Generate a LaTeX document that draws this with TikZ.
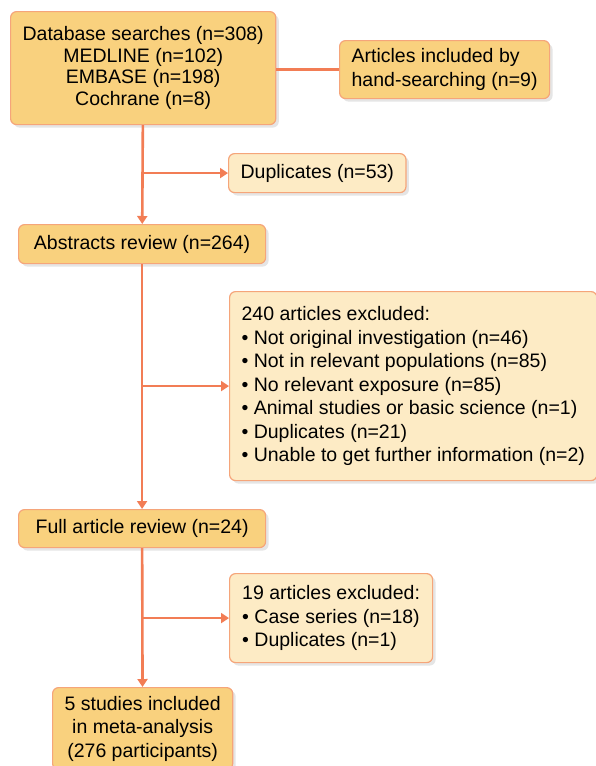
\documentclass[tikz,border=0pt]{standalone}
\usepackage{fontspec}
\setmainfont{Liberation Sans}
\usetikzlibrary{shadows,arrows.meta}
\definecolor{boxdark}{HTML}{F9D17E}
\definecolor{boxlight}{HTML}{FDEBC5}
\definecolor{boxline}{HTML}{F5A57A}
\definecolor{flowline}{HTML}{F27D55}

\begin{document}
\begin{tikzpicture}[x=1pt, y=-1pt, font=\fontsize{19.5}{23.5}\selectfont,
    box/.style={draw=boxline, line width=1.2pt, rounded corners=6pt, fill=boxdark,
      anchor=north west, inner xsep=12pt, inner ysep=0pt,
      drop shadow={shadow xshift=3pt, shadow yshift=-3pt, fill=black!20}},
    note/.style={box, fill=boxlight},
    flow/.style={draw=flowline, line width=2.6pt},
    >={Triangle[length=8pt,width=10pt]}]
  \useasboundingbox (0,0) rectangle (596,766);

  \node[box, minimum width=263pt, minimum height=113pt, align=center,
    font=\fontsize{19.5}{21.7}\selectfont] (search) at (10,11)
    {Database searches (n=308)\\ MEDLINE (n=102)\\ EMBASE (n=198)\\ Cochrane (n=8)};
  \node[box, minimum width=210pt, minimum height=58pt, align=left] (hand) at (339,40)
    {Articles included by\\ hand-searching (n=9)};
  \node[note, minimum width=176pt, minimum height=39pt, align=center] (dups) at (228,153)
    {Duplicates (n=53)};
  \node[box, minimum width=247pt, minimum height=39pt, align=center] (abstracts) at (18,224)
    {Abstracts review (n=264)};
  \node[note, minimum width=366pt, minimum height=189pt, align=left] (exclA) at (229,291)
    {240 articles excluded:\\
     • Not original investigation (n=46)\\
     • Not in relevant populations (n=85)\\
     • No relevant exposure (n=85)\\
     • Animal studies or basic science (n=1)\\
     • Duplicates (n=21)\\
     • Unable to get further information (n=2)};
  \node[box, minimum width=247pt, minimum height=38pt, align=center] (fulltext) at (18,509)
    {Full article review (n=24)};
  \node[note, minimum width=203pt, minimum height=89pt, align=left] (exclB) at (229,573)
    {19 articles excluded:\\ • Case series (n=18)\\ • Duplicates (n=1)};
  \node[box, minimum width=179pt, minimum height=82pt, align=center] (included) at (52,687)
    {5 studies included\\ in meta-analysis\\ (276 participants)};

  \draw[flow] (search.east |- hand.west) -- (hand.west);
  \draw[flow,->] (search) -- (abstracts);
  \draw[flow,->] (search.south |- dups.west) -- (dups.west);
  \draw[flow,->] (abstracts) -- (fulltext);
  \draw[flow,->] (abstracts.south |- exclA.west) -- (exclA.west);
  \draw[flow,->] (fulltext) -- (included);
  \draw[flow,->] (fulltext.south |- exclB.west) -- (exclB.west);
\end{tikzpicture}
\end{document}
